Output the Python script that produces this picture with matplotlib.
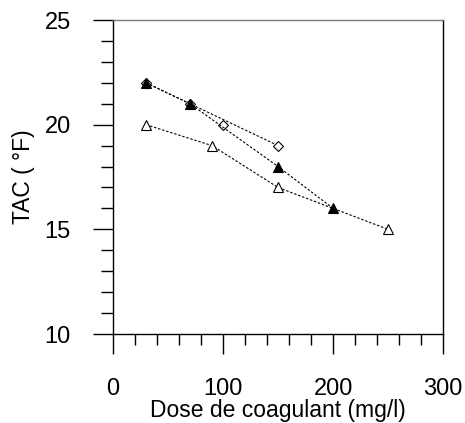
import matplotlib
matplotlib.use("Agg")
import matplotlib.pyplot as plt
from matplotlib.ticker import MultipleLocator

plt.rcParams['font.family'] = ['Liberation Sans', 'DejaVu Sans']

# open triangles
dose_a = [30, 90, 150, 250]
tac_a = [20, 19, 17, 15]
# filled triangles
dose_b = [30, 70, 150, 200]
tac_b = [22, 21, 18, 16]
# open diamonds
dose_c = [30, 70, 150]
tac_c = [22, 21, 19]
# lone diamond
dose_d = [100]
tac_d = [20]

fig = plt.figure(figsize=(4.65, 4.23), dpi=100)
ax = fig.add_axes([0.243, 0.2104, 0.71, 0.7423])

ls = (0, (2.2, 1.6))
ax.plot(dose_a, tac_a, ls=ls, lw=0.8, color='black', marker='^', ms=7.5,
        mfc='white', mec='black', mew=0.8)
ax.plot(dose_c, tac_c, ls=ls, lw=0.8, color='black', marker='D', ms=5,
        mfc='white', mec='black', mew=0.8)
ax.plot(dose_d, tac_d, ls='none', marker='D', ms=5,
        mfc='white', mec='black', mew=0.8)
ax.plot(dose_b, tac_b, ls=ls, lw=0.8, color='black', marker='^', ms=7.5,
        mfc='black', mec='black', mew=0.8)

ax.set_xlim(0, 300)
ax.set_ylim(10, 25)
ax.xaxis.set_major_locator(MultipleLocator(100))
ax.xaxis.set_minor_locator(MultipleLocator(20))
ax.yaxis.set_major_locator(MultipleLocator(5))
ax.yaxis.set_minor_locator(MultipleLocator(1))

ax.tick_params(which='both', direction='out', top=False, right=False, width=1)
ax.tick_params(which='major', length=14.4, labelsize=17)
ax.tick_params(axis='x', which='major', pad=17.5)
ax.tick_params(axis='y', which='major', pad=16)
ax.tick_params(axis='x', which='minor', length=8)
ax.tick_params(axis='y', which='minor', length=9)

for s in ax.spines.values():
    s.set_linewidth(1)
ax.spines['top'].set_color('#777777')

ax.set_xlabel('Dose de coagulant (mg/l)', fontsize=16.5, labelpad=-1)
ax.set_ylabel('TAC ( °F)', fontsize=16.5, labelpad=7)

fig.savefig('out.png', dpi=100)
